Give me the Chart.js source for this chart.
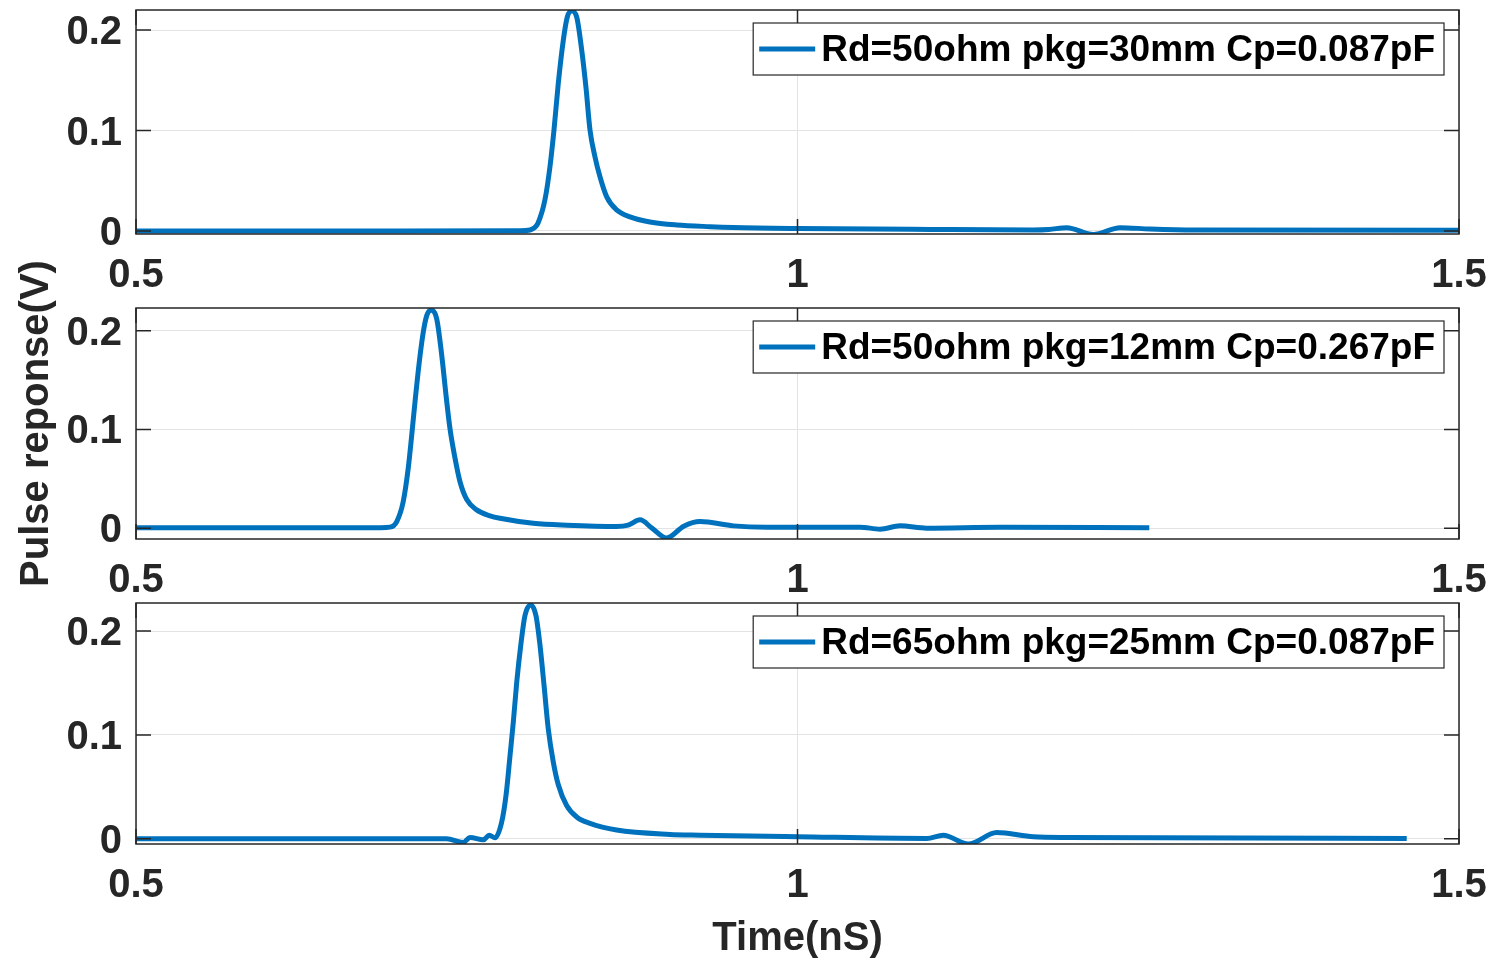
<!DOCTYPE html>
<html>
<head>
<meta charset="utf-8">
<title>Pulse response</title>
<script src="https://cdn.jsdelivr.net/npm/chart.js@4.4.1/dist/chart.umd.min.js"></script>
<style>
  html, body { margin: 0; padding: 0; background: #fff; }
  #page { position: relative; width: 1494px; height: 961px; overflow: hidden; }
  canvas { position: absolute; left: 0; }
</style>
</head>
<body>
<div id="page">
  <canvas id="plotA" width="1494" height="300" style="top:0px"></canvas>
  <canvas id="plotB" width="1494" height="348" style="top:250px"></canvas>
  <canvas id="plotC" width="1494" height="368" style="top:593px"></canvas>
</div>
<script>
// tick values shared by the three subplots
const xTicks = [0.5, 1, 1.5];
const yTicks = [0, 0.1, 0.2];

// subplot 1
const labelA = 'Rd=50ohm pkg=30mm Cp=0.087pF';
const timeA = [0.5, 0.70, 0.79, 0.7978, 0.801, 0.8039, 0.8091, 0.8129, 0.8159, 0.8192, 0.8230, 0.8260,
  0.8293, 0.8331, 0.8369, 0.8401, 0.8432, 0.8469, 0.8507, 0.8558, 0.8633, 0.8734, 0.8885, 0.9087,
  0.9339, 0.9513, 1.0, 1.1, 1.178, 1.19, 1.2035, 1.2236, 1.2438, 1.2664, 1.3, 1.5];
const pulseA = [0, 0, 0.0002, 0.001, 0.003, 0.008, 0.031, 0.064, 0.100, 0.147, 0.190, 0.213,
  0.219, 0.213, 0.180, 0.143, 0.100, 0.074, 0.054, 0.034, 0.021, 0.014, 0.009, 0.006,
  0.0043, 0.0035, 0.0025, 0.0015, 0.001, 0.0015, 0.0033, -0.0035, 0.0033, 0.002, 0.001, 0.0008];
const rangeA = [-0.003, 0.22];

// subplot 2
const labelB = 'Rd=50ohm pkg=12mm Cp=0.267pF';
const timeB = [0.5, 0.685, 0.692, 0.6971, 0.7020, 0.7058, 0.7084, 0.7109, 0.7141, 0.7172, 0.7197, 0.7230,
  0.7273, 0.7311, 0.7343, 0.7373, 0.7411, 0.7449, 0.7500, 0.7575, 0.7676, 0.7751, 0.8003, 0.8256,
  0.8633, 0.872, 0.8810, 0.890, 0.9011, 0.914, 0.9263, 0.9515, 0.9767, 1.0, 1.0472, 1.0624,
  1.0775, 1.0977, 1.1531, 1.2659];
const pulseB = [0.0005, 0.0005, 0.001, 0.0067, 0.027, 0.061, 0.094, 0.128, 0.168, 0.199, 0.215, 0.221,
  0.212, 0.175, 0.135, 0.101, 0.071, 0.047, 0.029, 0.0185, 0.0125, 0.010, 0.005, 0.003,
  0.0016, 0.003, 0.0084, 0.000, -0.010, 0.002, 0.0067, 0.0023, 0.001, 0.001, 0.001, -0.001,
  0.0023, 0.0, 0.001, 0.0005];
const rangeB = [-0.011, 0.223];

// subplot 3
const labelC = 'Rd=65ohm pkg=25mm Cp=0.087pF';
const timeC = [0.5, 0.7348, 0.7474, 0.7525, 0.7625, 0.7670, 0.7714, 0.7764, 0.7797, 0.7827, 0.7852, 0.7878,
  0.7908, 0.7940, 0.7983, 0.8023, 0.8054, 0.8084, 0.8116, 0.8154, 0.8192, 0.8255, 0.8331, 0.8432,
  0.8633, 0.9036, 0.9263, 1.0, 1.0977, 1.1102, 1.1291, 1.1506, 1.1782, 1.2035, 1.4605];
const pulseC = [0, 0, -0.0035, 0.0013, -0.001, 0.0035, 0.001, 0.016, 0.042, 0.080, 0.1125, 0.151,
  0.186, 0.215, 0.225, 0.215, 0.186, 0.148, 0.106, 0.074, 0.052, 0.032, 0.021, 0.0148,
  0.0084, 0.0042, 0.0035, 0.002, 0.0004, 0.0035, -0.005, 0.006, 0.002, 0.0013, 0.0004];
const rangeC = [-0.005, 0.227];

const FONT = '"Liberation Sans", Arial, Helvetica, sans-serif';
const AXIS_COLOR = '#262626';
const GRID_COLOR = '#e3e3e3';
const LINE_COLOR = '#0072BD';

// matlab-like box, inward ticks and boxed legend
const axesBox = {
    id: 'axesBox',
    afterDatasetsDraw(chart) {
        const { ctx, chartArea: a, scales: { x, y } } = chart;
        ctx.save();
        ctx.strokeStyle = AXIS_COLOR;
        ctx.lineWidth = 1.5;
        ctx.strokeRect(a.left, a.top, a.right - a.left, a.bottom - a.top);

        ctx.beginPath();
        yTicks.forEach(v => {
            const py = y.getPixelForValue(v);
            ctx.moveTo(a.left, py); ctx.lineTo(a.left + 15, py);
            ctx.moveTo(a.right, py); ctx.lineTo(a.right - 15, py);
        });
        xTicks.forEach(v => {
            const px = x.getPixelForValue(v);
            ctx.moveTo(px, a.bottom); ctx.lineTo(px, a.bottom - 15);
            ctx.moveTo(px, a.top); ctx.lineTo(px, a.top + 15);
        });
        ctx.stroke();

        // legend
        const ds = chart.data.datasets[0];
        ctx.font = 'bold 37px ' + FONT;
        const tw = ctx.measureText(ds.label).width;
        const w = 68 + tw + 9, h = 52;
        const lx = a.right - 15 - w, ly = a.top + 13;
        ctx.fillStyle = '#fff';
        ctx.fillRect(lx, ly, w, h);
        ctx.lineWidth = 1.2;
        ctx.strokeStyle = AXIS_COLOR;
        ctx.strokeRect(lx, ly, w, h);
        ctx.beginPath();
        ctx.strokeStyle = ds.borderColor;
        ctx.lineWidth = ds.borderWidth;
        ctx.moveTo(lx + 6, ly + h / 2);
        ctx.lineTo(lx + 62, ly + h / 2);
        ctx.stroke();
        ctx.fillStyle = '#000';
        ctx.textBaseline = 'middle';
        ctx.textAlign = 'left';
        ctx.fillText(ds.label, lx + 68, ly + h / 2 + 2);
        ctx.restore();
    }
};

const tickFont = { family: FONT, size: 40, weight: 'bold', lineHeight: 1 };

function makePlot(id, label, times, pulses, yRange, cfg) {
    const points = times.map((t, i) => ({ x: t, y: pulses[i] }));
    return new Chart(document.getElementById(id), {
        type: 'line',
        data: {
            datasets: [{
                label: label,
                data: points,
                borderColor: LINE_COLOR,
                backgroundColor: LINE_COLOR,
                borderWidth: 5,
                pointRadius: 0,
                cubicInterpolationMode: 'monotone',
                fill: false
            }]
        },
        options: {
            responsive: false,
            animation: false,
            events: [],
            layout: { padding: { top: cfg.padTop, right: 35, left: 0, bottom: 0 } },
            plugins: {
                legend: { display: false },
                tooltip: { enabled: false }
            },
            scales: {
                x: {
                    type: 'linear',
                    min: 0.5,
                    max: 1.5,
                    afterBuildTicks: s => { s.ticks = xTicks.map(v => ({ value: v })); },
                    afterFit: s => { s.height = cfg.xHeight; s.paddingLeft = 0; s.paddingRight = 0; },
                    grid: { color: GRID_COLOR, lineWidth: 1, drawTicks: false },
                    border: { display: false },
                    ticks: {
                        font: tickFont, color: AXIS_COLOR, padding: 22,
                        maxRotation: 0, autoSkip: false,
                        callback: v => String(v)
                    },
                    title: cfg.xTitle || { display: false }
                },
                y: {
                    type: 'linear',
                    min: yRange[0],
                    max: yRange[1],
                    afterBuildTicks: s => { s.ticks = yTicks.map(v => ({ value: v })); },
                    afterFit: s => { s.width = 136; s.paddingTop = 0; s.paddingBottom = 0; },
                    grid: { color: GRID_COLOR, lineWidth: 1, drawTicks: false },
                    border: { display: false },
                    ticks: {
                        font: tickFont, color: AXIS_COLOR, padding: 14,
                        labelOffset: 3,
                        autoSkip: false,
                        callback: v => String(v)
                    },
                    title: cfg.yTitle || { display: false }
                }
            }
        },
        plugins: [axesBox]
    });
}

makePlot('plotA', labelA, timeA, pulseA, rangeA, { padTop: 10, xHeight: 66 });

makePlot('plotB', labelB, timeB, pulseB, rangeB, {
    padTop: 58,
    xHeight: 59,
    yTitle: {
        display: true,
        text: 'Pulse reponse(V)',
        color: AXIS_COLOR,
        font: { family: FONT, size: 40, weight: 'bold', lineHeight: 1 },
        padding: { top: 17, bottom: 0 }
    }
});

makePlot('plotC', labelC, timeC, pulseC, rangeC, {
    padTop: 10,
    xHeight: 117,
    xTitle: {
        display: true,
        text: 'Time(nS)',
        color: AXIS_COLOR,
        font: { family: FONT, size: 40, weight: 'bold', lineHeight: 1 },
        padding: { top: 0, bottom: 2 }
    }
});
</script>
</body>
</html>
